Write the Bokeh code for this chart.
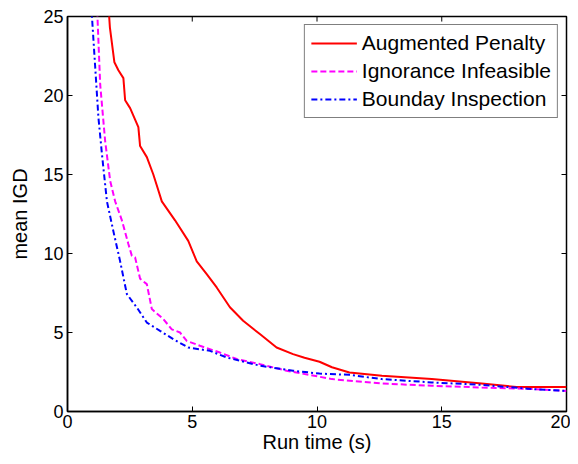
from bokeh.plotting import figure
from bokeh.models import Range1d, Legend, LegendItem, FixedTicker
from bokeh.embed import file_html
from bokeh.resources import INLINE

# Data
ap_x = [1.6, 1.67, 1.7, 1.88, 2.04, 2.24, 2.31, 2.51, 2.84, 2.91, 3.18, 3.44, 3.58, 3.78, 4.31, 4.84, 5.18, 5.58,
        5.98, 6.51, 7.04, 7.71, 8.38, 9.04, 9.5, 10.1, 10.6, 11.3, 12.6, 14.6, 16.6, 18.0, 20.0]
ap_y = [26.5, 25.0, 24.3, 22.1, 21.6, 21.1, 19.7, 19.2, 18.0, 16.8, 16.1, 15.0, 14.3, 13.3, 12.1, 10.8, 9.5, 8.7,
        7.85, 6.6, 5.74, 4.9, 4.05, 3.63, 3.4, 3.15, 2.8, 2.47, 2.26, 2.05, 1.77, 1.55, 1.55]

ii_x = [1.15, 1.2, 1.31, 1.51, 1.71, 1.91, 2.18, 2.44, 2.58, 2.71, 2.91, 3.18, 3.38, 3.84, 4.18, 4.51, 4.78, 5.31,
        6.11, 6.78, 7.71, 8.78, 10.1, 10.6, 12.6, 14.6, 16.6, 18.6, 20.0]
ii_y = [26.5, 25.0, 20.7, 17.1, 14.6, 13.3, 12.1, 10.6, 9.85, 9.75, 8.4, 8.06, 6.48, 5.85, 5.2, 5.0, 4.47, 4.16,
        3.73, 3.32, 3.0, 2.58, 2.2, 2.05, 1.77, 1.63, 1.52, 1.42, 1.3]

bi_x = [0.95, 0.98, 1.11, 1.24, 1.38, 1.58, 1.84, 2.11, 2.38, 2.78, 3.18, 3.71, 4.24, 4.84, 5.71, 6.38, 7.71, 9.04,
        10.1, 11.3, 12.6, 14.6, 16.6, 18.6, 20.0]
bi_y = [26.5, 25.0, 21.8, 18.6, 16.3, 13.3, 11.4, 9.5, 7.43, 6.58, 5.63, 5.1, 4.58, 4.05, 3.84, 3.42, 2.9, 2.58,
        2.4, 2.32, 2.05, 1.84, 1.69, 1.42, 1.3]

x_ticks = [0, 5, 10, 15, 20]
y_ticks = [0, 5, 10, 15, 20, 25]
series_names = ["Augmented Penalty", "Ignorance Infeasible", "Bounday Inspection"]

FONT = "Liberation Sans"
X_MIN, X_MAX, Y_MIN, Y_MAX = 0, 20, 0, 25

p = figure(width=570, height=456, output_backend="svg", toolbar_location=None,
           x_range=Range1d(X_MIN, X_MAX), y_range=Range1d(Y_MIN, Y_MAX),
           min_border_left=67, min_border_top=16, min_border_right=4, min_border_bottom=45)
p.grid.visible = False
p.outline_line_color = "black"
p.outline_line_width = 1.5

r1 = p.line(ap_x, ap_y, line_color="red", line_width=2)
r2 = p.line(ii_x, ii_y, line_color="magenta", line_width=2, line_dash="6 3")
r3 = p.line(bi_x, bi_y, line_color="blue", line_width=2, line_dash="6 3 2 3")

for ax in [p.xaxis[0], p.yaxis[0]]:
    ax.axis_line_color = "black"
    ax.axis_line_width = 1.5
    ax.major_tick_in = 5
    ax.major_tick_out = 0
    ax.minor_tick_line_color = None
    ax.major_tick_line_color = "black"
    ax.major_label_text_font = FONT
    ax.major_label_text_font_size = "18px"
    ax.major_label_text_color = "black"
    ax.axis_label_text_font = FONT
    ax.axis_label_text_font_size = "20px"
    ax.axis_label_text_font_style = "normal"
    ax.axis_label_text_color = "black"

p.xaxis[0].ticker = FixedTicker(ticks=x_ticks)
p.yaxis[0].ticker = FixedTicker(ticks=y_ticks)
p.xaxis[0].axis_label = "Run time (s)"
p.yaxis[0].axis_label = "mean IGD"
p.xaxis[0].major_label_standoff = 3
p.yaxis[0].major_label_standoff = 4
p.xaxis[0].axis_label_standoff = 0
p.yaxis[0].axis_label_standoff = 9

# mirrored inward ticks on top and right edges (MATLAB box style)
tick_dx = 0.2   # ~5px in x units
tick_dy = 0.32  # ~5px in y units
p.segment(x0=x_ticks, y0=[Y_MAX] * len(x_ticks), x1=x_ticks, y1=[Y_MAX - tick_dy] * len(x_ticks),
          line_color="black", line_width=1)
p.segment(x0=[X_MAX] * len(y_ticks), y0=y_ticks, x1=[X_MAX - tick_dx] * len(y_ticks), y1=y_ticks,
          line_color="black", line_width=1)

legend = Legend(items=[LegendItem(label=series_names[0], renderers=[r1]),
                       LegendItem(label=series_names[1], renderers=[r2]),
                       LegendItem(label=series_names[2], renderers=[r3])],
                location="top_right")
legend.label_text_font = FONT
legend.label_text_font_size = "21px"
legend.label_text_color = "black"
legend.glyph_width = 46
legend.glyph_height = 20
legend.label_height = 20
legend.spacing = 4
legend.padding = 6
legend.margin = 8
legend.label_standoff = 5
legend.border_line_color = "black"
legend.border_line_width = 1
legend.background_fill_alpha = 1
p.add_layout(legend)

open("out.html", "w").write(file_html(p, INLINE))
